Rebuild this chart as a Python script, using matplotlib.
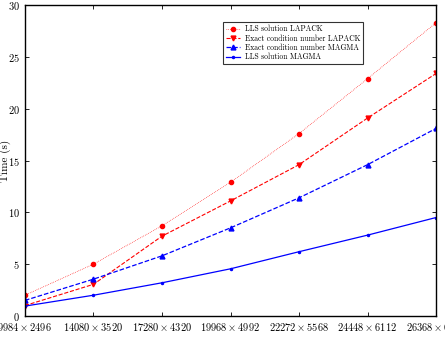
import matplotlib
matplotlib.use("Agg")
import matplotlib.pyplot as plt

plt.rcParams['font.family'] = 'serif'
plt.rcParams['font.serif'] = ['cmr10', 'DejaVu Serif']
plt.rcParams['mathtext.fontset'] = 'cm'
plt.rcParams['axes.formatter.use_mathtext'] = True

sizes = ["9984 \\times 2496", "14080 \\times 3520", "17280 \\times 4320",
         "19968 \\times 4992", "22272 \\times 5568", "24448 \\times 6112",
         "26368 \\times 6592"]
lls_lapack = [2.0, 5.0, 8.7, 12.9, 17.6, 22.9, 28.3]
cond_lapack = [1.0, 3.05, 7.7, 11.1, 14.6, 19.1, 23.4]
cond_magma = [1.5, 3.55, 5.8, 8.5, 11.4, 14.6, 18.1]
lls_magma = [0.95, 2.0, 3.2, 4.55, 6.2, 7.8, 9.5]

x = list(range(len(sizes)))

fig = plt.figure(figsize=(4.45, 3.39), dpi=100)
ax = fig.add_axes([0.056, 0.068, 0.924, 0.917])

ax.plot(x, lls_lapack, color='red', linestyle=':', linewidth=0.5, marker='o',
        markersize=3, label='LLS solution LAPACK')
ax.plot(x, cond_lapack, color='red', linestyle='--', linewidth=0.8, marker='v',
        markersize=3.5, label='Exact condition number LAPACK')
ax.plot(x, cond_magma, color='blue', linestyle='--', linewidth=0.9, marker='^',
        markersize=3.5, label='Exact condition number MAGMA')
ax.plot(x, lls_magma, color='blue', linestyle='-', linewidth=0.9, marker='.',
        markersize=3, label='LLS solution MAGMA')

ax.set_xlim(0, 6)
ax.set_ylim(0, 30)
ax.set_xticks(x)
ax.set_xticklabels(['$' + s + '$' for s in sizes], fontsize=7.5)
ax.set_yticks([0, 5, 10, 15, 20, 25, 30])
ax.tick_params(axis='y', labelsize=7.5)
ax.tick_params(direction='in', top=True, right=True, length=3, width=0.6)
for sp in ax.spines.values():
    sp.set_linewidth(1.0)

ax.set_ylabel('Time (s)', fontsize=8)
ax.yaxis.set_label_coords(-0.035, 0.5)
ax.set_xlabel(r'Problem size ($m \times n$)', fontsize=9, labelpad=4)

leg = ax.legend(loc='upper right', bbox_to_anchor=(0.832, 0.957), fontsize=5.5,
                frameon=True, fancybox=False, edgecolor='black',
                handlelength=1.9, handletextpad=0.6, borderpad=0.35,
                labelspacing=0.12)
leg.get_frame().set_linewidth(0.8)

fig.savefig('out.png', dpi=100)
